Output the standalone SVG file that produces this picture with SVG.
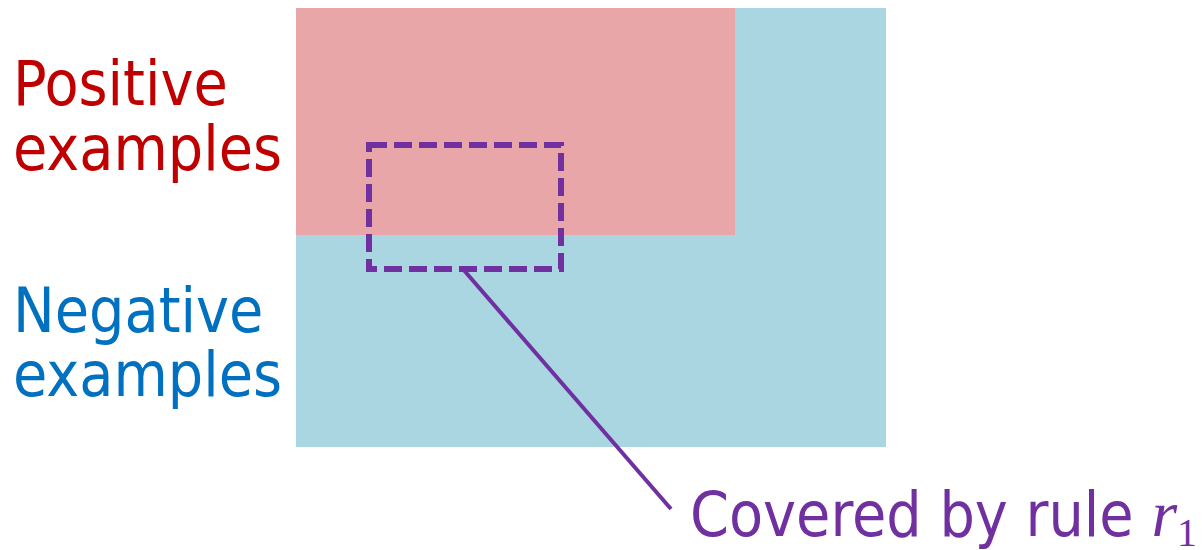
<svg xmlns="http://www.w3.org/2000/svg" width="1202" height="550" viewBox="0 0 1202 550">
  <style>
    .lbl { font-family: "DejaVu Sans Condensed", "DejaVu Sans", sans-serif; font-size: 62px; }
    .pos { fill: #C00000; }
    .neg { fill: #0070C0; }
    .cov { fill: #7030A0; }
    .rule { stroke: #7030A0; fill: none; }
  </style>
  <rect width="1202" height="550" fill="#FFFFFF"/>
  <g id="negative-region">
    <rect x="296" y="8" width="590" height="439" fill="#A9D6E1"/>
  </g>
  <g id="positive-region">
    <rect x="296" y="8" width="439" height="227" fill="#E9A6A8"/>
  </g>
  <g id="rule-r1">
    <rect class="rule" x="369" y="145" width="192" height="124" stroke-width="6" stroke-dasharray="18 7"/>
  </g>
  <g id="connectors">
    <line class="rule" x1="462" y1="268" x2="671" y2="509" stroke-width="4"/>
  </g>
  <g id="label-positive">
    <text class="lbl pos" x="13" y="105">Positive</text>
    <text class="lbl pos" x="13" y="170">examples</text>
  </g>
  <g id="label-negative">
    <text class="lbl neg" x="13" y="332">Negative</text>
    <text class="lbl neg" x="13" y="396">examples</text>
  </g>
  <g id="label-rule">
    <text class="lbl cov" x="690" y="536">Covered by rule <tspan font-family="Liberation Serif, serif" font-style="italic" font-size="66">r</tspan><tspan font-family="Liberation Serif, serif" font-size="40" dy="10">1</tspan></text>
  </g>
</svg>
